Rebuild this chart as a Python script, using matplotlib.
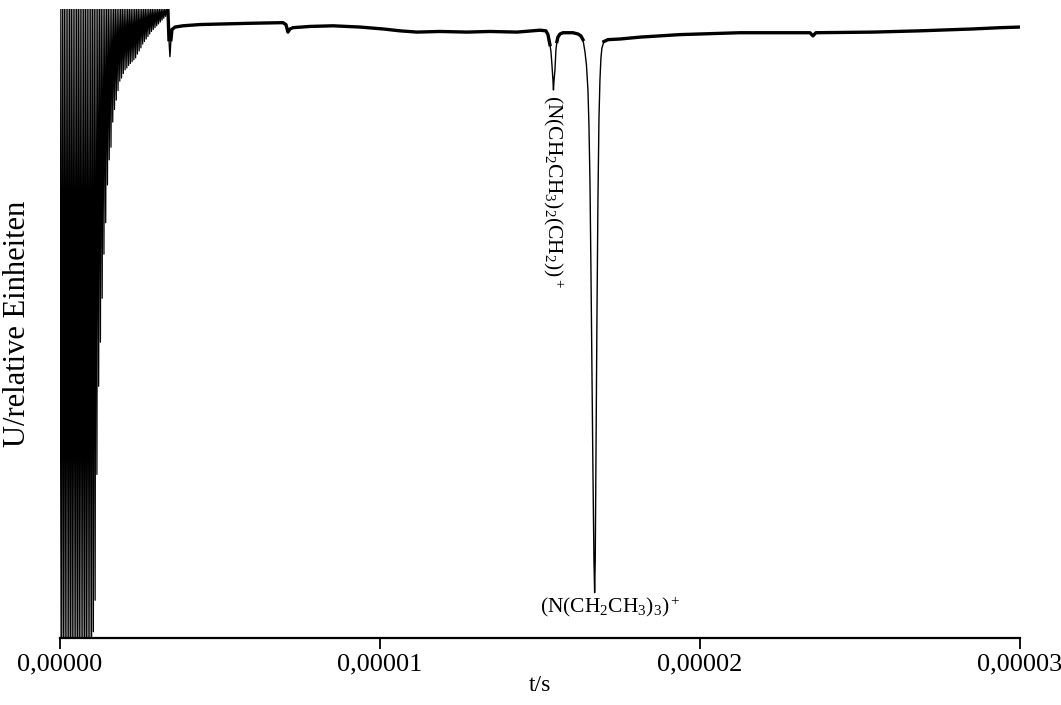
import matplotlib
matplotlib.use("Agg")
import numpy as np
import matplotlib.pyplot as plt
from matplotlib.ticker import FuncFormatter

plt.rcParams['font.family'] = ['Liberation Serif', 'DejaVu Serif']
plt.rcParams['mathtext.fontset'] = 'custom'
plt.rcParams['mathtext.rm'] = 'Liberation Serif'
plt.rcParams['mathtext.it'] = 'Liberation Serif:italic'

# ringing at the start of the trace: time of each minimum (us) and its depth
ring_t_us = [0.000, 0.055, 0.110, 0.165, 0.220, 0.275, 0.330, 0.385, 0.440, 0.495,
             0.550, 0.605, 0.660, 0.715, 0.770, 0.825, 0.880, 0.935, 0.990, 1.045,
             1.100, 1.155, 1.210, 1.265, 1.320, 1.375, 1.430, 1.485, 1.540, 1.595,
             1.650, 1.705, 1.760, 1.815, 1.870, 1.925, 1.980, 2.035, 2.090, 2.145,
             2.200, 2.255, 2.310, 2.365, 2.420, 2.475, 2.530, 2.585, 2.640, 2.695,
             2.750, 2.805, 2.860, 2.915, 2.970, 3.025, 3.080, 3.135, 3.190, 3.245,
             3.300, 3.355]
ring_min = [0.0, 0.0, 0.0, 0.0, 0.0, 0.0, 0.0, 0.0, 0.0, 0.0,
            0.0, 0.0, 0.0, 0.0, 0.0, 0.0, 0.0, 0.0, 0.0, 0.01,
            0.06, 0.26, 0.40, 0.47, 0.54, 0.61, 0.66, 0.72, 0.76, 0.78,
            0.82, 0.84, 0.855, 0.87, 0.885, 0.89, 0.897, 0.903, 0.906, 0.91,
            0.913, 0.916, 0.919, 0.922, 0.928, 0.933, 0.938, 0.944, 0.948, 0.952,
            0.956, 0.96, 0.964, 0.967, 0.97, 0.973, 0.976, 0.979, 0.982, 0.985,
            0.988, 0.99]
ring_max = 1.0

# rest of the trace (time in us, signal in relative units)
t_us = [3.375, 3.406, 3.4375, 3.469, 3.5, 3.594, 3.844, 4.375, 5.9375, 6.969,
        7.0625, 7.125, 7.1875, 7.281, 7.8125, 8.531, 9.375, 10.094, 10.625, 11.156,
        11.875, 12.719, 13.4375, 14.281, 15.0, 15.1875, 15.25, 15.3125, 15.344, 15.375,
        15.406, 15.422, 15.4375, 15.469, 15.5, 15.531, 15.5625, 15.625, 15.719, 16.031,
        16.1875, 16.281, 16.344, 16.406, 16.453, 16.5, 16.531, 16.5625, 16.594, 16.625,
        16.656, 16.6875, 16.709, 16.728, 16.75, 16.781, 16.8125, 16.844, 16.875, 16.906,
        16.9375, 17.0, 17.125, 17.5, 18.125, 19.375, 21.25, 22.8125, 23.4375, 23.531,
        23.625, 25.406, 26.875, 28.531, 29.375, 30.0]
U = [0.998, 0.951, 0.924, 0.951, 0.967, 0.971, 0.973, 0.975, 0.977, 0.978,
     0.975, 0.963, 0.968, 0.970, 0.972, 0.973, 0.971, 0.968, 0.965, 0.963,
     0.964, 0.963, 0.964, 0.963, 0.966, 0.965, 0.959, 0.943, 0.932, 0.911,
     0.887, 0.871, 0.884, 0.903, 0.935, 0.948, 0.955, 0.960, 0.962, 0.962,
     0.960, 0.957, 0.951, 0.932, 0.911, 0.871, 0.816, 0.728, 0.585, 0.426,
     0.267, 0.124, 0.072, 0.124, 0.283, 0.506, 0.696, 0.824, 0.887, 0.922,
     0.938, 0.948, 0.951, 0.952, 0.955, 0.959, 0.962, 0.962, 0.962, 0.957,
     0.962, 0.963, 0.965, 0.968, 0.970, 0.971]

xticks = [0.0, 1e-5, 2e-5, 3e-5]

fig = plt.figure(figsize=(10.61, 7.05), dpi=100)
ax = fig.add_axes([0.0565, 0.095, 0.9048, 0.8925])

# ringing drawn as a zigzag: each minimum followed by the clipped maximum
rt = np.array(ring_t_us) * 1e-6
half = np.diff(rt).mean() / 2
zz_t = np.column_stack([rt, rt + half]).ravel()
zz_u = np.column_stack([ring_min, np.full(len(rt), ring_max)]).ravel()
ax.plot(zz_t, zz_u, color='black', lw=0.9)

t = np.array(t_us) * 1e-6
u = np.array(U)
ax.plot(t, u, color='black', lw=1.0)
# baseline noise makes the trace look thicker away from the peaks
ax.plot(t, np.where(u > 0.94, u, np.nan), color='black', lw=2.4)

ax.set_xlim(0, 3e-5)
ax.set_ylim(0, 1.0)
ax.set_xticks(xticks)
ax.xaxis.set_major_formatter(FuncFormatter(lambda v, p: ("%.5f" % v).replace('.', ',')))
ax.set_yticks([])
for s in ['left', 'top', 'right']:
    ax.spines[s].set_visible(False)
ax.spines['bottom'].set_linewidth(1.6)
ax.tick_params(axis='x', direction='out', length=8, width=1.3, labelsize=19, pad=3)

ax.set_xlabel("t/s", fontsize=17, labelpad=0)
ax.set_ylabel("U/relative Einheiten", fontsize=22)
ax.yaxis.set_label_coords(-0.029, 0.5)

ax.text(15.42e-6, 0.863, "(N(CH$_2$CH$_3$)$_2$(CH$_2$))$^+$", rotation=270,
        ha='center', va='top', fontsize=15.5)
ax.text(17.19e-6, 0.068, "(N(CH$_2$CH$_3$)$_3$)$^+$", ha='center', va='top', fontsize=15.5)

fig.savefig("out.png", dpi=100)
